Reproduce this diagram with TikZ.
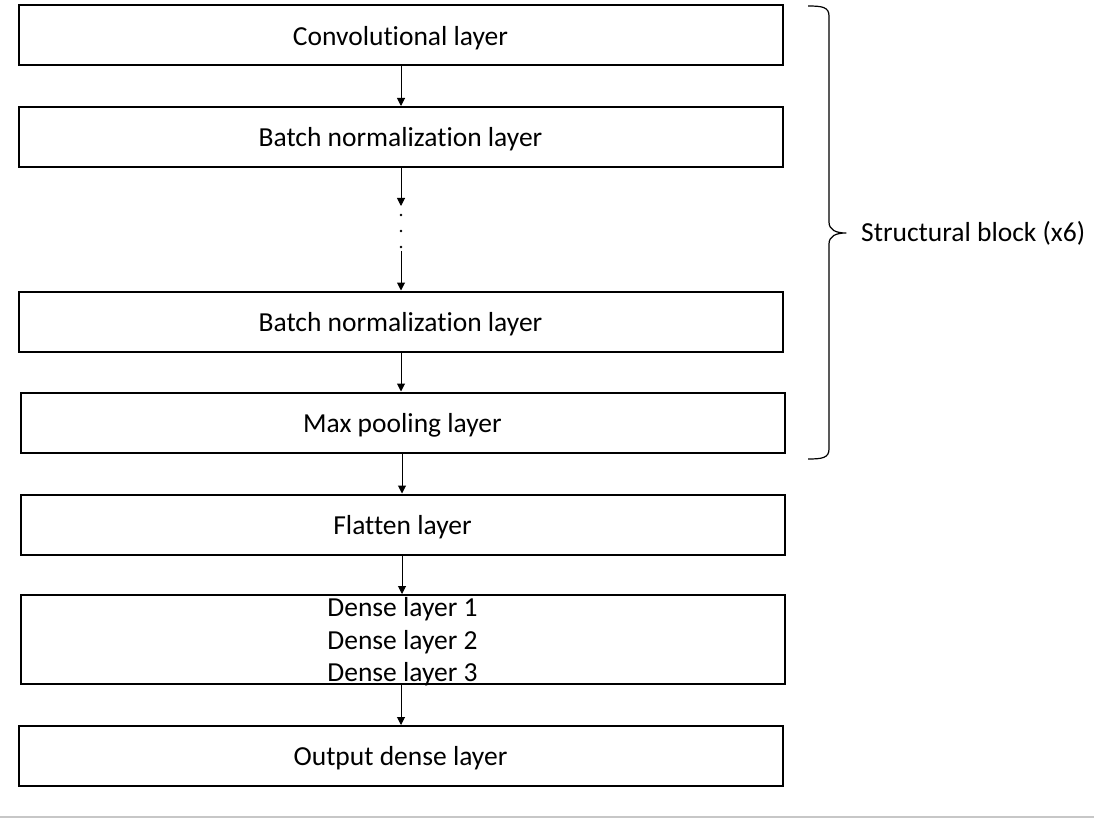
\documentclass[tikz,border=0pt]{standalone}
\usepackage{fontspec}
\setmainfont[Ligatures=NoCommon]{Carlito}
\usetikzlibrary{arrows.meta}
\begin{document}
\begin{tikzpicture}[x=1pt,y=-1pt,
  layerbox/.style={draw=black, line width=2pt, rectangle, minimum width=764pt, minimum height=60pt, inner sep=0pt, font=\fontsize{27.5}{32.5}\selectfont, align=center, text depth=0pt},
  flow/.style={line width=1pt, -{Triangle[width=8pt,length=8pt]}},
  dotmark/.style={circle, fill=black, inner sep=0pt, minimum size=2.6pt}
]
\useasboundingbox (0,0) rectangle (1094,818);
\fill[white] (0,0) rectangle (1094,818);

\node[layerbox] (conv) at (400.5,35.5) {Convolutional layer};
\node[layerbox] (bn1) at (400.5,137) {Batch normalization layer};
\node[layerbox] (bn2) at (400.5,321.5) {Batch normalization layer};
\node[layerbox] (pool) at (402.5,422.5) {Max pooling layer};
\node[layerbox] (flat) at (402.5,524.5) {Flatten layer};
\node[layerbox, minimum height=89pt] (dense) at (402.5,639.5) {Dense layer 1\\Dense layer 2\\Dense layer 3};
\node[layerbox] (out) at (400.5,756) {Output dense layer};

\coordinate (d1end) at (401,206);
\coordinate (d2start) at (401,251);
\node[dotmark] (dotA) at (401,215) {};
\node[dotmark] (dotB) at (401,231) {};
\node[dotmark] (dotC) at (401,247) {};

\draw[flow] (conv.south -| 401,0) -- (bn1.north -| 401,0);
\draw[flow] (bn1.south -| 401,0) -- (d1end);
\draw[flow] (d2start) -- (bn2.north -| 401,0);
\draw[flow] (bn2.south -| 401,0) -- (pool.north -| 401,0);
\draw[flow] (pool.south -| 402,0) -- (flat.north -| 402,0);
\draw[flow] (flat.south -| 402,0) -- (dense.north -| 402,0);
\draw[flow] (dense.south -| 401,0) -- (out.north -| 401,0);

% brace
\coordinate (brTop) at (808,6);
\coordinate (brBot) at (808,459);
\coordinate (brTip) at (846,233);
\draw[line width=1.2pt, line join=round]
  (brTop) .. controls (822,6) and (829,7) .. (829,16)
  -- (829,222) .. controls (829,230) and (836,233) .. (brTip)
  .. controls (836,233) and (829,236) .. (829,244)
  -- (829,449) .. controls (829,458) and (822,459) .. (brBot);
\node[anchor=west, font=\fontsize{27.5}{32}\selectfont, inner sep=0pt] (lbl) at (861,233) {Structural block (x6)};

% bottom separator
\coordinate (sepL) at (0,817);
\coordinate (sepR) at (1094,817);
\draw[line width=2pt, color=black!22] (sepL) -- (sepR);
\end{tikzpicture}
\end{document}
